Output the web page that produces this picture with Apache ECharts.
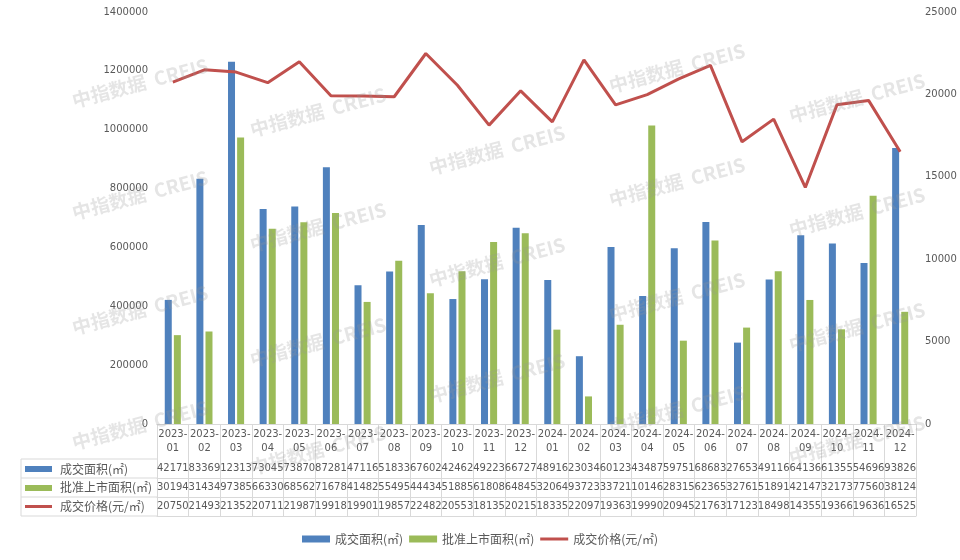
<!DOCTYPE html>
<html><head><meta charset="utf-8">
<script src="https://cdn.jsdelivr.net/npm/echarts@6/dist/echarts.min.js"></script>
<style>html,body{margin:0;padding:0;background:#fff}#c{width:960px;height:560px}</style>
</head><body><div id="c"></div>
<script>
const categories = ['2023-01','2023-02','2023-03','2023-04','2023-05','2023-06','2023-07','2023-08','2023-09','2023-10','2023-11','2023-12',
  '2024-01','2024-02','2024-03','2024-04','2024-05','2024-06','2024-07','2024-08','2024-09','2024-10','2024-11','2024-12'];
const dealArea = [421710,833690,1231300,730450,738700,872810,471160,518330,676020,424620,492230,667270,
  489160,230340,601230,434870,597510,686830,276530,491160,641360,613550,546960,938260];
const approvedArea = [301940,314340,973850,663300,685620,716780,414820,554950,444340,518850,618080,648450,
  320640,93723,337210,1014600,283150,623650,327610,518910,421470,321730,775600,381240];
const dealPrice = [20750,21493,21352,20711,21987,19918,19901,19857,22482,20553,18135,20215,
  18335,22097,19363,19990,20945,21763,17123,18498,14355,19366,19636,16525];
const leftTicks = [0,200000,400000,600000,800000,1000000,1200000,1400000];
const rightTicks = [0,5000,10000,15000,20000,25000];
const seriesNames = ['成交面积(㎡)','批准上市面积(㎡)','成交价格(元/㎡)'];

const BLUE='#4f81bd', GREEN='#9bbb59', RED='#c0504d', GRID='#d9d9d9', TXT='#595959';
const NUM_FONT='DejaVu Sans';
const CJK_FONT='Noto Sans CJK SC';

const chart = echarts.init(document.getElementById('c'));

function rowAxis(offset, arr){
  return {
    type:'category', data:categories, position:'bottom', offset:offset, gridIndex:0,
    axisLine:{show:true,lineStyle:{color:GRID,width:1}},
    axisTick:{show:false},
    axisLabel:{interval:0, margin:4, color:TXT, fontSize:10, fontFamily:NUM_FONT,
      formatter:(v,i)=> arr ? String(arr[i]).slice(0,5) : ''}
  };
}

const graphics = [];
[459,478,497,516].forEach(y=>graphics.push({type:'line',shape:{x1:21,y1:y,x2:157,y2:y},style:{stroke:GRID,lineWidth:1}}));
graphics.push({type:'line',shape:{x1:21,y1:459,x2:21,y2:516},style:{stroke:GRID,lineWidth:1}});
graphics.push({type:'rect',shape:{x:25,y:466,width:27,height:6},style:{fill:BLUE}});
graphics.push({type:'rect',shape:{x:25,y:485,width:27,height:6},style:{fill:GREEN}});
graphics.push({type:'rect',shape:{x:25,y:505,width:27,height:3},style:{fill:RED}});
[469,487.5,506].forEach((y,i)=>graphics.push({type:'text',x:60,y:y,style:{text:seriesNames[i],fill:TXT,font:'12px "'+CJK_FONT+'"',verticalAlign:'middle',align:'left'}}));
const wm = [[140,83],[140,195],[140,310],[140,425],[318,112],[318,227],[318,342],[318,450],
  [497,150],[497,262],[497,378],[677,68],[677,182],[677,297],[677,410],[857,98],[857,212],[857,327],[857,440]];
wm.forEach(p=>graphics.push({type:'text',x:p[0],y:p[1],rotation:0.26,z:100,silent:true,
  style:{text:'中指数据  CREIS',fill:'rgba(150,150,150,0.25)',font:'bold 19px "'+CJK_FONT+'"',align:'center',verticalAlign:'middle'}}));

chart.setOption({
  animation:false,
  backgroundColor:'#fff',
  grid:{left:157,right:44,top:12,bottom:136,containLabel:false},
  legend:{bottom:10,left:'center',itemWidth:28,itemHeight:7,itemGap:6,
    textStyle:{color:TXT,fontSize:12,fontFamily:CJK_FONT},
    data:[{name:seriesNames[0],icon:'rect'},{name:seriesNames[1],icon:'rect'},
      {name:seriesNames[2],icon:'path://M0,0H28V3H0Z'}]},
  xAxis:[
    {type:'category',data:categories,position:'bottom',
     axisLine:{show:true,lineStyle:{color:GRID}},
     axisTick:{show:true,length:92,interval:0,lineStyle:{color:GRID}},
     axisLabel:{interval:0,margin:3,color:TXT,fontSize:10,fontFamily:NUM_FONT,lineHeight:14,
       formatter:v=>v.replace('-','-\n')}},
    rowAxis(35,dealArea),
    rowAxis(54,approvedArea),
    rowAxis(73,dealPrice),
    rowAxis(92,null)
  ],
  yAxis:[
    {type:'value',min:0,max:1400000,interval:200000,
     axisLine:{show:false},axisTick:{show:false},splitLine:{show:false},
     axisLabel:{color:TXT,fontSize:10,fontFamily:NUM_FONT,margin:9,formatter:v=>String(v)}},
    {type:'value',min:0,max:25000,interval:5000,position:'right',
     axisLine:{show:false},axisTick:{show:false},splitLine:{show:false},
     axisLabel:{color:TXT,fontSize:10,fontFamily:NUM_FONT,margin:9,formatter:v=>String(v)}}
  ],
  series:[
    {name:seriesNames[0],type:'bar',data:dealArea,barWidth:7,barGap:'30%',itemStyle:{color:BLUE}},
    {name:seriesNames[1],type:'bar',data:approvedArea,barWidth:7,barGap:'30%',itemStyle:{color:GREEN}},
    {name:seriesNames[2],type:'line',yAxisIndex:1,data:dealPrice,symbol:'none',
     lineStyle:{color:RED,width:3},itemStyle:{color:RED}}
  ],
  graphic:graphics
});
</script></body></html>
